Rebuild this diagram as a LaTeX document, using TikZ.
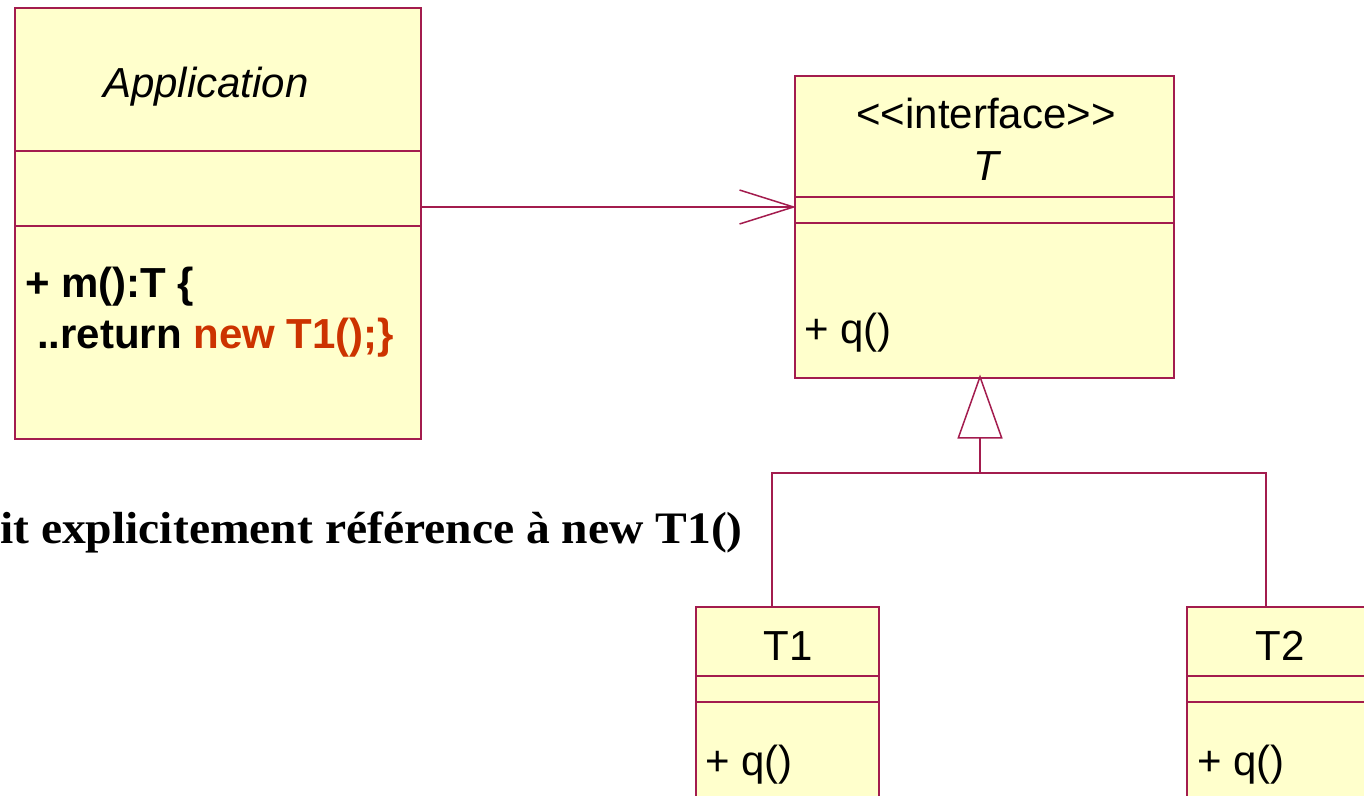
\documentclass[tikz,border=0pt]{standalone}
\usepackage{fontspec}
\setmainfont{Liberation Serif}
\setsansfont{Liberation Sans}
\usetikzlibrary{arrows.meta}
\definecolor{umlline}{RGB}{163,28,78}
\definecolor{umlfill}{RGB}{255,255,204}
\definecolor{codered}{RGB}{204,51,0}
\newcommand{\umlfont}{\sffamily\fontsize{42}{51}\selectfont}
\begin{document}
\begin{tikzpicture}[x=1pt,y=-1pt,
  umlbox/.style={draw=umlline, fill=umlfill, line width=1.5pt, rectangle,
    inner sep=0pt, anchor=north west},
  umlrule/.style={draw=umlline, line width=1.5pt},
  umltext/.style={font=\umlfont, inner sep=0pt, anchor=base},
  umlop/.style={font=\umlfont, inner sep=0pt, anchor=base west},
  assoc/.style={draw=umlline, line width=1.5pt,
    -{Straight Barb[length=54pt,width=34pt,line width=1.5pt]}},
  inherit/.style={draw=umlline, line width=1.5pt},
  realize/.style={draw=umlline, line width=1.5pt,
    -{Triangle[open,length=64pt,width=45pt,line width=1.5pt,fill=white]}},
  note/.style={font=\rmfamily\bfseries\fontsize{45}{54}\selectfont,
    inner sep=0pt, anchor=base east, xscale=1.057}]
\useasboundingbox (0,0) rectangle (1364,795);
\clip (0,0) rectangle (1364,795);

% class Application
\node[umlbox, minimum width=406pt, minimum height=431pt] (app) at (14,7) {};
\draw[umlrule] (app.west |- 0,151) -- (app.east |- 0,151);
\draw[umlrule] (app.west |- 0,226) -- (app.east |- 0,226);
\node[umltext, font=\umlfont\itshape] (apptitle) at (206,97) {Application};
\node[umlop, font=\umlfont\bfseries] (appop1) at (25,297) {+ m():T \{};
\node[umlop, font=\umlfont\bfseries] (appop2) at (37,348)
  {..return \textcolor{codered}{new T1();\}}};

% interface T
\node[umlbox, minimum width=379pt, minimum height=302pt] (iface) at (794,75) {};
\draw[umlrule] (iface.west |- 0,197) -- (iface.east |- 0,197);
\draw[umlrule] (iface.west |- 0,223) -- (iface.east |- 0,223);
\node[umltext] (istereo) at (986,128) {<{}<interface>{}>};
\node[umltext, font=\umlfont\itshape] (ititle) at (986,180) {T};
\node[umlop] (iop) at (804,343) {+ q()};

% class T1
\node[umlbox, minimum width=183pt, minimum height=240pt] (t1) at (695,606) {};
\draw[umlrule] (t1.west |- 0,676) -- (t1.east |- 0,676);
\draw[umlrule] (t1.west |- 0,702) -- (t1.east |- 0,702);
\node[umltext] (t1title) at (788,660) {T1};
\node[umlop] (t1op) at (705,775) {+ q()};

% class T2
\node[umlbox, minimum width=183pt, minimum height=240pt] (t2) at (1186,606) {};
\draw[umlrule] (t2.west |- 0,676) -- (t2.east |- 0,676);
\draw[umlrule] (t2.west |- 0,702) -- (t2.east |- 0,702);
\node[umltext] (t2title) at (1280,660) {T2};
\node[umlop] (t2op) at (1197,775) {+ q()};

% association Application -> T (tip sits on the border)
\draw[assoc] (app.east |- 0,207) -- ([xshift=2pt]iface.west |- 0,207);

% realisation T1, T2 -> T (apex touches the bottom border)
\coordinate (joint) at (980,473);
\coordinate (leg1) at (772,473);
\coordinate (leg2) at (1266,473);
\draw[inherit] (leg1 |- t1.north) -- (leg1) -- (leg2) -- (leg2 |- t2.north);
\draw[realize] (joint) -- ([yshift=4pt]joint |- iface.south);

% remark
\node[note] (remark) at (743,543) {it explicitement référence à new T1()};
\end{tikzpicture}
\end{document}
